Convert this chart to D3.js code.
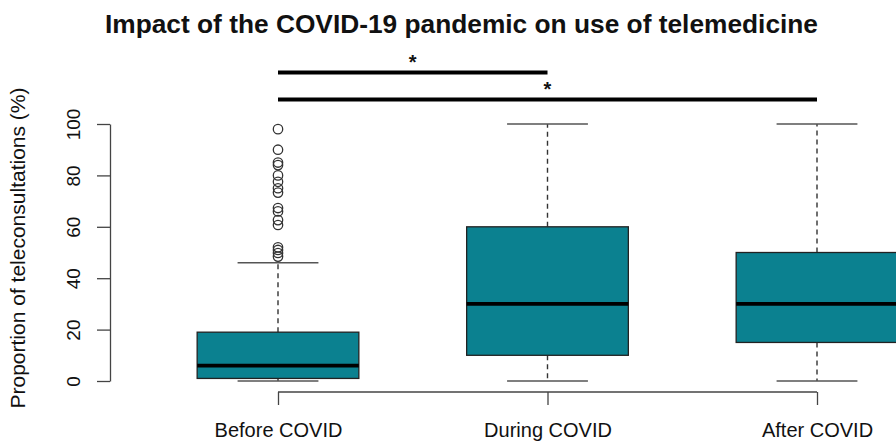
<!DOCTYPE html>
<html>
<head>
<meta charset="utf-8">
<script src="https://cdn.jsdelivr.net/npm/d3@7"></script>
<style>
  html, body { margin: 0; padding: 0; background: #fff; }
  svg { display: block; }
  text { font-family: "Liberation Sans", Arial, Helvetica, sans-serif; fill: #111; }
</style>
</head>
<body>
<svg id="chart" width="896" height="441"></svg>
<script>
// ---- data ----
const categories = ["Before COVID", "During COVID", "After COVID"];
const whiskerLow  = [0, 0, 0];
const q1          = [1, 10, 15];
const medians     = [6, 30, 30];
const q3          = [19, 60, 50];
const whiskerHigh = [46, 100, 100];
const outliersBefore = [98, 90, 85, 84, 80, 77.5, 75, 73.3, 67.3, 66, 62.6, 60.7, 52, 51, 49.8, 48.4];
const outliers = [outliersBefore, [], []];
const yTicks = [0, 20, 40, 60, 80, 100];
const sigFrom  = [0, 0];
const sigTo    = [1, 2];
const sigLevel = [120, 109.5];
const sigLabel = ["*", "*"];
const title  = "Impact of the COVID-19 pandemic on use of telemedicine";
const yTitle = "Proportion of teleconsultations (%)";

// ---- layout ----
const svg = d3.select("#chart");
const x = d3.scalePoint().domain(categories).range([278, 817]);
const y = d3.scaleLinear().domain([0, 100]).range([381, 124]);
const step = x.step();
const boxW = step * 0.6;
const capW = boxW * 0.5;
const teal = "#0b8190";

// title
svg.append("text")
  .attr("x", 461.5).attr("y", 33)
  .attr("text-anchor", "middle")
  .attr("textLength", 713).attr("lengthAdjust", "spacingAndGlyphs")
  .style("font-size", "25px").style("font-weight", "bold")
  .text(title);

// y axis
const yAxis = svg.append("g").attr("transform", "translate(110,0)")
  .call(d3.axisLeft(y).tickValues(yTicks).tickSize(13).tickSizeOuter(0).tickFormat(d3.format("d")));
yAxis.select(".domain").attr("stroke", "#444").attr("stroke-width", 1.3);
yAxis.selectAll(".tick line").attr("stroke", "#444").attr("stroke-width", 1.3);
yAxis.selectAll(".tick text")
  .attr("x", null).attr("dy", null).attr("y", null)
  .attr("text-anchor", "middle")
  .attr("transform", "translate(-30,0) rotate(-90)")
  .style("font-size", "19px")
  .attr("fill", "#111");

// x axis
const xAxis = svg.append("g").attr("transform", "translate(0,392)")
  .call(d3.axisBottom(x).tickSize(13).tickSizeOuter(0));
xAxis.select(".domain").attr("stroke", "#444").attr("stroke-width", 1.3)
  .attr("d", `M${x(categories[0])},0H${x(categories[2])}`);
xAxis.selectAll(".tick line").attr("stroke", "#444").attr("stroke-width", 1.3);
xAxis.selectAll(".tick text")
  .attr("y", 45).attr("dy", null)
  .style("font-size", "20px").attr("fill", "#111");

// y title
svg.append("text")
  .attr("transform", "translate(25,248) rotate(-90)")
  .attr("text-anchor", "middle")
  .style("font-size", "21px")
  .text(yTitle);

// boxes
const g = svg.append("g");
categories.forEach((c, i) => {
  const cx = x(c);
  // whiskers (dashed)
  g.append("line").attr("x1", cx).attr("x2", cx)
    .attr("y1", y(q3[i])).attr("y2", y(whiskerHigh[i]))
    .attr("stroke", "#333").attr("stroke-width", 1.4).attr("stroke-dasharray", "5,4");
  g.append("line").attr("x1", cx).attr("x2", cx)
    .attr("y1", y(q1[i])).attr("y2", y(whiskerLow[i]))
    .attr("stroke", "#333").attr("stroke-width", 1.4).attr("stroke-dasharray", "5,4");
  // caps
  [whiskerHigh[i], whiskerLow[i]].forEach(v => {
    g.append("line").attr("x1", cx - capW / 2).attr("x2", cx + capW / 2)
      .attr("y1", y(v)).attr("y2", y(v))
      .attr("stroke", "#555").attr("stroke-width", 1.6);
  });
  // box
  g.append("rect")
    .attr("x", cx - boxW / 2).attr("width", boxW)
    .attr("y", y(q3[i])).attr("height", y(q1[i]) - y(q3[i]))
    .attr("fill", teal).attr("stroke", "#222").attr("stroke-width", 1.3);
  // median
  g.append("line").attr("x1", cx - boxW / 2).attr("x2", cx + boxW / 2)
    .attr("y1", y(medians[i])).attr("y2", y(medians[i]))
    .attr("stroke", "#000").attr("stroke-width", 3.6);
  // outliers
  g.selectAll(null).data(outliers[i]).enter().append("circle")
    .attr("cx", cx).attr("cy", d => y(d)).attr("r", 4.7)
    .attr("fill", "none").attr("stroke", "#333").attr("stroke-width", 1.3);
});

// significance bars
sigFrom.forEach((f, k) => {
  const x1 = x(categories[f]), x2 = x(categories[sigTo[k]]);
  const yy = y(sigLevel[k]);
  svg.append("line").attr("x1", x1).attr("x2", x2).attr("y1", yy).attr("y2", yy)
    .attr("stroke", "#000").attr("stroke-width", 4);
  svg.append("text")
    .attr("x", (x1 + x2) / 2).attr("y", yy - 4)
    .attr("text-anchor", "middle")
    .style("font-size", "20px").style("font-weight", "bold")
    .text(sigLabel[k]);
});
</script>
</body>
</html>
